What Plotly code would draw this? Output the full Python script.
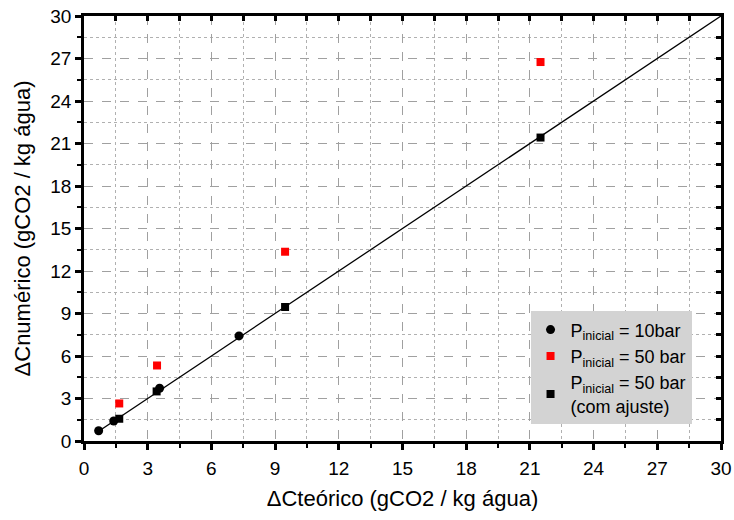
import plotly.graph_objects as go

# Data
circ_x = [0.69, 1.40, 3.56, 7.30]
circ_y = [0.72, 1.41, 3.72, 7.42]
red_x = [1.66, 3.44, 9.47, 21.50]
red_y = [2.65, 5.33, 13.36, 26.75]
blk_x = [1.66, 3.42, 9.47, 21.50]
blk_y = [1.57, 3.50, 9.46, 21.42]
line_x = [0.69, 30]
line_y = [0.69, 30]

FONT = "Liberation Sans, Arial, sans-serif"

fig = go.Figure()
fig.add_trace(go.Scatter(x=line_x, y=line_y, mode="lines",
                         line=dict(color="black", width=1.3), showlegend=False))
fig.add_trace(go.Scatter(x=circ_x, y=circ_y, mode="markers",
                         marker=dict(symbol="circle", size=9, color="black"),
                         name="P<sub>inicial</sub> = 10bar"))
fig.add_trace(go.Scatter(x=red_x, y=red_y, mode="markers",
                         marker=dict(symbol="square", size=8, color="#ff0000"),
                         name="P<sub>inicial</sub> = 50 bar"))
fig.add_trace(go.Scatter(x=blk_x, y=blk_y, mode="markers",
                         marker=dict(symbol="square", size=8, color="black"),
                         name="P<sub>inicial</sub> = 50 bar<br>(com ajuste)"))
# dummy trace for the mirrored axes
fig.add_trace(go.Scatter(x=[None], y=[None], xaxis="x2", yaxis="y2", showlegend=False))

common = dict(
    range=[0, 30], dtick=3, tick0=0, automargin=False,
    showline=True, linecolor="black", linewidth=2.5,
    ticks="outside", ticklen=6, tickwidth=2.5, tickcolor="black",
    showgrid=True, gridcolor="#a0a0a0", gridwidth=1, griddash="dash",
    minor=dict(dtick=1.5, tick0=0, ticks="outside", ticklen=4, tickwidth=2,
               tickcolor="black", showgrid=True, gridcolor="#b0b0b0",
               griddash="dot", gridwidth=1),
    tickfont=dict(family=FONT, size=19, color="black"),
    zeroline=False,
)

fig.update_layout(
    width=734, height=520,
    margin=dict(l=84, r=13, t=16, b=79),
    plot_bgcolor="white", paper_bgcolor="white",
    xaxis=dict(**common, ticklabelstandoff=2,
               title=dict(text="ΔCteórico (gCO2 / kg água)",
                          font=dict(family=FONT, size=22, color="black"),
                          standoff=14)),
    yaxis=dict(**common,
               title=dict(text="ΔCnumérico (gCO2 / kg água)",
                          font=dict(family=FONT, size=22, color="black"),
                          standoff=14)),
    xaxis2=dict(overlaying="x", side="top", range=[0, 30], dtick=1.5, tick0=0,
                automargin=False,
                showline=True, linecolor="black", linewidth=2.5,
                ticks="inside", ticklen=5, tickwidth=2.5, tickcolor="black",
                showticklabels=False, showgrid=False, zeroline=False),
    yaxis2=dict(overlaying="y", side="right", range=[0, 30], dtick=1.5, tick0=0,
                automargin=False,
                showline=True, linecolor="black", linewidth=2.5,
                ticks="inside", ticklen=5, tickwidth=2.5, tickcolor="black",
                showticklabels=False, showgrid=False, zeroline=False),
    legend=dict(x=0.701, y=0.305, xanchor="left", yanchor="top",
                bgcolor="#d3d3d3", borderwidth=0,
                font=dict(family=FONT, size=18, color="black"),
                itemwidth=30, tracegroupgap=4),
    showlegend=True,
)

fig.write_html("out.html")
